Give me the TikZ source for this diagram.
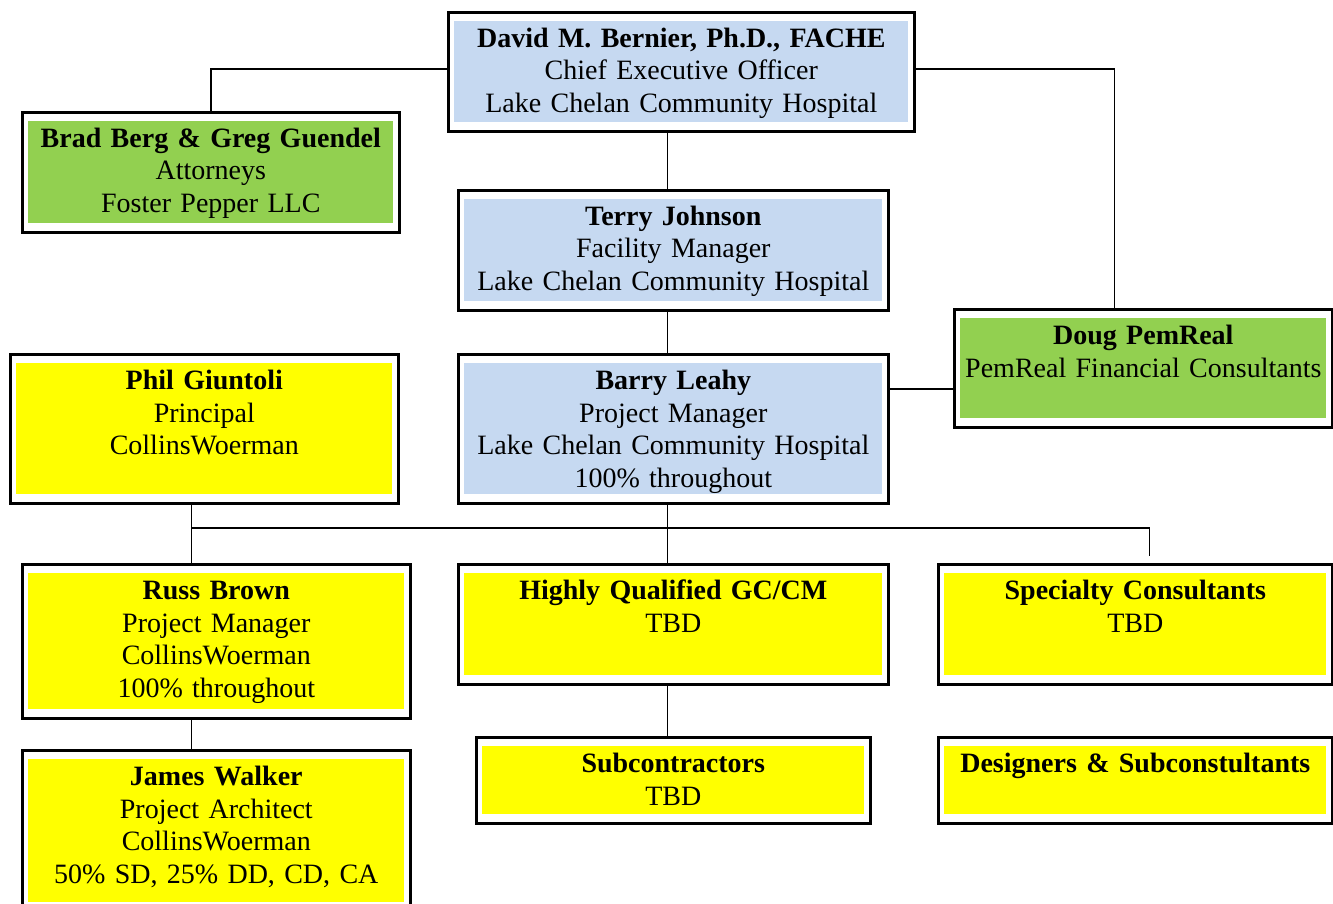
\documentclass[tikz,border=0pt]{standalone}
\usepackage{fontspec}
\setmainfont{Liberation Serif}
\definecolor{hospblue}{HTML}{C6D9F1}
\definecolor{advgreen}{HTML}{92D050}
\definecolor{teamyellow}{HTML}{FFFF00}
\tikzset{%
	person/.style={draw, line width=2.6pt, anchor=north west, inner xsep=6pt, inner ysep=9pt,%
		align=center, text height=26pt, font=\fontsize{28}{32.7}\selectfont,%
		path picture={\fill[#1] ([xshift=6pt,yshift=-9pt]path picture bounding box.north west)
			rectangle ([xshift=-6pt,yshift=9pt]path picture bounding box.south east);}},
	connector/.style={line width=1.6pt}
}
\begin{document}
\begin{tikzpicture}[x=1pt, y=-1pt]
		\useasboundingbox (0,0) rectangle (1333,904);
		\node[person=hospblue, text width=454pt, text depth=75pt] (ceo) at (447,11)
			{\textbf{David M. Bernier, Ph.D., FACHE}\\Chief Executive Officer\\Lake Chelan Community Hospital};
		\node[person=advgreen, text width=365pt, text depth=76pt] (berg) at (21,111)
			{\textbf{Brad Berg \& Greg Guendel}\\Attorneys\\Foster Pepper LLC};
		\node[person=hospblue, text width=418pt, text depth=76pt] (terry) at (457,189)
			{\textbf{Terry Johnson}\\Facility Manager\\Lake Chelan Community Hospital};
		\node[person=advgreen, text width=366pt, text depth=74pt] (doug) at (953,308)
			{\textbf{Doug PemReal}\\PemReal Financial Consultants};
		\node[person=teamyellow, text width=376pt, text depth=105pt] (phil) at (9,353)
			{\textbf{Phil Giuntoli}\\Principal\\CollinsWoerman};
		\node[person=hospblue, text width=418pt, text depth=105pt] (barry) at (457,353)
			{\textbf{Barry Leahy}\\Project Manager\\Lake Chelan Community Hospital\\100\% throughout};
		\node[person=teamyellow, text width=376pt, text depth=110pt] (russ) at (21,563)
			{\textbf{Russ Brown}\\Project Manager\\CollinsWoerman\\100\% throughout};
		\node[person=teamyellow, text width=418pt, text depth=76pt] (gc) at (457,563)
			{\textbf{Highly Qualified GC/CM}\\TBD};
		\node[person=teamyellow, text width=382pt, text depth=76pt] (spec) at (937,563)
			{\textbf{Specialty Consultants}\\TBD};
		\node[person=teamyellow, text width=382pt, text depth=42pt] (sub) at (475,736)
			{\textbf{Subcontractors}\\TBD};
		\node[person=teamyellow, text width=382pt, text depth=42pt] (des) at (937,736)
			{\textbf{Designers \& Subconstultants}};
		\node[person=teamyellow, text width=376pt, text depth=117pt] (james) at (21,749)
			{\textbf{James Walker}\\Project Architect\\CollinsWoerman\\50\% SD, 25\% DD, CD, CA};

		\coordinate (spinetop) at ([xshift=-6pt]terry.north);
		\coordinate (barryarm) at ([yshift=40pt]barry.east);
		\coordinate (philstem) at ([xshift=-13pt]phil.south);
		\coordinate (bus) at (666,528);

		\draw [connector] ([yshift=3pt]ceo.west) -| (berg.north);
		\draw [connector] ([yshift=3pt]ceo.east) -| ([xshift=-29pt]doug.north);
		\draw [connector] (spinetop) -- (spinetop |- ceo.south);
		\draw [connector] ([xshift=-6pt]terry.south) -- ([xshift=-6pt]barry.north);
		\draw [connector] (barryarm) -- (barryarm -| doug.west);
		\draw [connector] ([xshift=-6pt]barry.south) -- ([xshift=-6pt]gc.north);
		\draw [connector] (philstem) -- ([xshift=-25pt]russ.north);
		\draw [connector] (philstem |- bus) -| ([xshift=14pt,yshift=7pt]spec.north);
		\draw [connector] ([xshift=-25pt]russ.south) -- ([xshift=-25pt]james.north);
		\draw [connector] ([xshift=-6pt]gc.south) -- ([xshift=-6pt]sub.north);
	\end{tikzpicture}
\end{document}
